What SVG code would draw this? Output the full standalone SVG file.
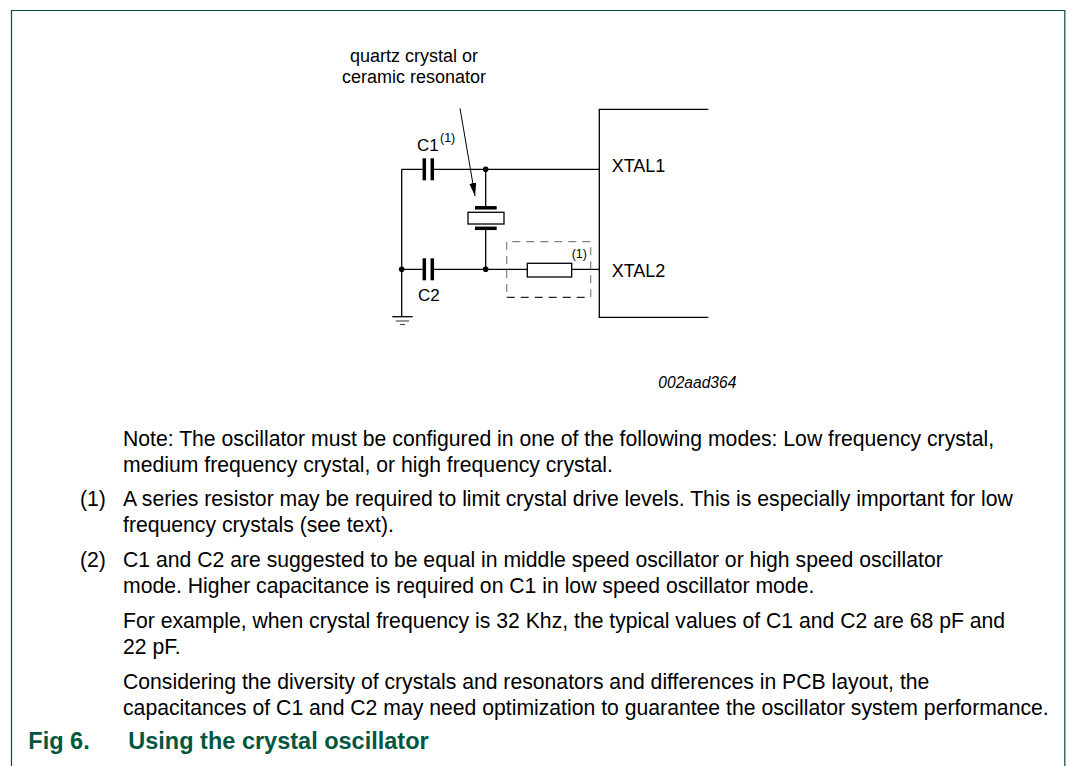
<svg xmlns="http://www.w3.org/2000/svg" width="1068" height="766" viewBox="0 0 1068 766">
<defs>
<style>
.w{fill:none;stroke:#000;stroke-width:1.3}
.plate{fill:none;stroke:#000;stroke-width:3.5}
.t{font-family:"Liberation Sans",Arial,sans-serif;fill:#000}
.body{font-size:21.2px}
.lbl{font-size:18px}
.sm{font-size:12.5px}
.ttl{font-family:"Liberation Sans",Arial,sans-serif;font-weight:bold;font-size:23.5px;fill:#00573f}
</style>
<marker id="ah" markerUnits="userSpaceOnUse" markerWidth="14" markerHeight="8" refX="13" refY="3.5" orient="auto">
<path d="M0,0 L13,3.5 L0,7 z" fill="#000"/>
</marker>
</defs>
<rect width="1068" height="766" fill="#fff"/>
<path id="frame" d="M11.5 766 V10.5 H1064.8 V766" fill="none" stroke="#00513a" stroke-width="1.2"/>

<g id="connectors">
<path class="w" d="M401.7 169.3 H422.5 M434 169.3 H599.3"/>
<path class="w" d="M401.7 169.3 V316.7"/>
<path class="w" d="M401.7 269.3 H422.5 M434 269.3 H527.3 M571.7 269.3 H599.3"/>
<path class="w" d="M485.7 169.3 V206 M485.7 230 V269.3"/>
<circle cx="485.7" cy="169.3" r="2.8" fill="#000"/>
<circle cx="485.7" cy="269.3" r="2.8" fill="#000"/>
<circle cx="401.7" cy="269.3" r="2.8" fill="#000"/>
<line x1="460" y1="108.3" x2="475" y2="196" stroke="#000" stroke-width="1" marker-end="url(#ah)"/>
</g>

<g id="chip">
<path class="w" d="M708.3 109.3 H599.3 V317.3 H708.3"/>
<text class="t lbl" x="611.7" y="171.7">XTAL1</text>
<text class="t lbl" x="611.7" y="276.7">XTAL2</text>
</g>

<g id="C1">
<line class="plate" x1="424.3" y1="158.3" x2="424.3" y2="180.3"/>
<line class="plate" x1="432.3" y1="158.3" x2="432.3" y2="180.3"/>
<text class="t" font-size="17" x="417" y="150.7">C1</text>
<text class="t sm" x="440" y="141.7">(1)</text>
</g>

<g id="C2">
<line class="plate" x1="424.3" y1="258.3" x2="424.3" y2="280.3"/>
<line class="plate" x1="432.3" y1="258.3" x2="432.3" y2="280.3"/>
<text class="t" font-size="17" x="418" y="300.5">C2</text>
</g>

<g id="crystal">
<line class="plate" x1="475" y1="207.8" x2="496.7" y2="207.8"/>
<rect x="468" y="212.3" width="36" height="11.7" fill="#fff" stroke="#000" stroke-width="1.3"/>
<line class="plate" x1="475" y1="228.3" x2="496.7" y2="228.3"/>
<text class="t lbl" x="414" y="61.7" text-anchor="middle">quartz crystal or</text>
<text class="t lbl" x="414" y="83.3" text-anchor="middle">ceramic resonator</text>
</g>

<g id="resistor">
<path d="M590.7 297.3 V241.7 H506.7 V297.3" fill="none" stroke="#808080" stroke-width="1.2" stroke-dasharray="8 6"/>
<path d="M506.7 297.3 H590.7" fill="none" stroke="#222" stroke-width="1.2" stroke-dasharray="8 6"/>
<rect x="527.3" y="263.3" width="44.4" height="13.7" fill="#fff" stroke="#000" stroke-width="1.3"/>
<text class="t sm" x="571.7" y="258.3">(1)</text>
</g>

<g id="ground">
<line x1="392.3" y1="316.7" x2="412.7" y2="316.7" stroke="#000" stroke-width="1.3"/>
<line x1="395.7" y1="321" x2="409" y2="321" stroke="#444" stroke-width="1.1"/>
<line x1="400" y1="324.5" x2="405" y2="324.5" stroke="#444" stroke-width="1.1"/>
</g>

<g id="figid">
<text class="t" font-size="15.6" font-style="italic" x="658.3" y="388.3">002aad364</text>
</g>

<g id="notes" class="t body">
<text x="123" y="446">Note: The oscillator must be configured in one of the following modes: Low frequency crystal,</text>
<text x="123" y="472">medium frequency crystal, or high frequency crystal.</text>
<text x="80" y="506">(1)</text>
<text x="123" y="506">A series resistor may be required to limit crystal drive levels. This is especially important for low</text>
<text x="123" y="532">frequency crystals (see text).</text>
<text x="80" y="567">(2)</text>
<text x="123" y="567">C1 and C2 are suggested to be equal in middle speed oscillator or high speed oscillator</text>
<text x="123" y="593">mode. Higher capacitance is required on C1 in low speed oscillator mode.</text>
<text x="123" y="628">For example, when crystal frequency is 32 Khz, the typical values of C1 and C2 are 68 pF and</text>
<text x="123" y="654">22 pF.</text>
<text x="123" y="689">Considering the diversity of crystals and resonators and differences in PCB layout, the</text>
<text x="123" y="715">capacitances of C1 and C2 may need optimization to guarantee the oscillator system performance.</text>
</g>

<g id="title">
<text class="ttl" x="28.3" y="749">Fig 6.</text>
<text class="ttl" x="128.3" y="749">Using the crystal oscillator</text>
</g>
</svg>
